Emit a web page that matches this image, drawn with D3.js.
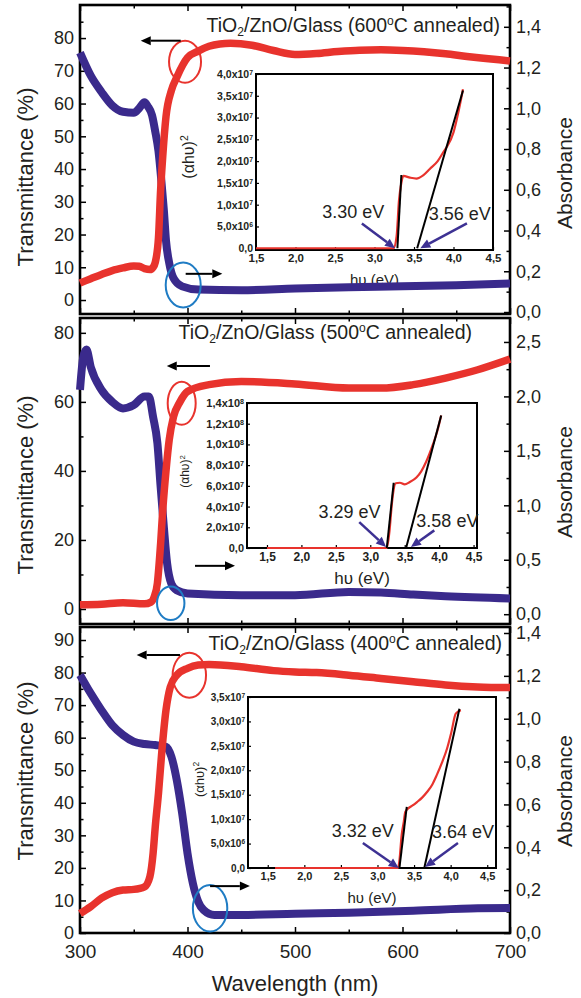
<!DOCTYPE html>
<html>
<head>
<meta charset="utf-8">
<script src="https://cdn.jsdelivr.net/npm/d3@7/dist/d3.min.js"></script>
<style>
  body { margin: 0; background: #fff; }
  text { font-family: 'Liberation Sans', Arial, sans-serif; fill: #231f20; }
</style>
</head>
<body>
<div id="chart"></div>
<script>
// wavelength axis (nm)
const wlTicks = [300, 400, 500, 600, 700]
const wlMinor = [350, 450, 550, 650]

// ---- 600 C annealed
const trWl600 = [300, 310, 320, 330, 340, 350, 355, 360, 365, 368, 370, 373, 375, 377, 380, 385, 390, 400, 410, 420, 430, 440, 460, 480, 500, 520, 540, 560, 580, 600, 620, 640, 660, 680, 700]
const tr600 = [5.2, 6.5, 7.8, 9.0, 9.8, 10.4, 10.3, 9.6, 9.3, 10, 11.5, 19, 33.6, 44, 56, 64, 68, 74, 76, 77.5, 78.2, 78.4, 77.8, 76.2, 75, 75.3, 75.9, 76.3, 76.4, 76.2, 75.8, 75.2, 74.4, 73.7, 73]
const abWl600 = [300, 310, 320, 330, 340, 350, 355, 360, 363, 367, 370, 373, 376, 378, 380, 383, 387, 395, 410, 450, 500, 550, 600, 650, 700]
const ab600 = [1.273, 1.16, 1.08, 1.014, 0.983, 0.978, 1.0, 1.03, 1.01, 0.966, 0.886, 0.79, 0.625, 0.5, 0.35, 0.24, 0.166, 0.126, 0.11, 0.107, 0.115, 0.122, 0.126, 0.132, 0.14]
const tTicks600 = [0, 10, 20, 30, 40, 50, 60, 70, 80]
const aTicks600 = [0, 0.2, 0.4, 0.6, 0.8, 1.0, 1.2, 1.4]
const taucE600 = [1.5, 2.0, 2.5, 3.0, 3.24, 3.28, 3.31, 3.34, 3.365, 3.45, 3.53, 3.62, 3.70, 3.80, 3.87, 3.91, 4.0, 4.06, 4.12]
const tauc600 = [0, 0, 0, 0, 0, 0.28e7, 1.1e7, 1.5e7, 1.66e7, 1.62e7, 1.6e7, 1.68e7, 1.82e7, 2.0e7, 2.2e7, 2.31e7, 2.66e7, 3.11e7, 3.65e7]
const fitLow600 = [[3.29, 0], [3.34, 1.68e7]]
const fitHigh600 = [[3.54, 0], [4.12, 3.62e7]]
const taucTicks600 = [0, 0.5e7, 1.0e7, 1.5e7, 2.0e7, 2.5e7, 3.0e7, 3.5e7, 4.0e7]
const gapLabels600 = ['3.30 eV', '3.56 eV']

// ---- 500 C annealed
const trWl500 = [300, 320, 340, 360, 366, 369, 372, 375, 377, 380, 383, 387, 393, 400, 420, 450, 500, 550, 580, 610, 640, 670, 700]
const tr500 = [1.2, 1.4, 1.8, 1.5, 2.0, 3.5, 7.5, 19, 28.7, 40, 49, 55.7, 60, 63, 65, 65.9, 65.2, 64, 64, 65, 66.9, 69.3, 72.4]
const abWl500 = [300, 303, 306, 310, 320, 330, 340, 350, 360, 364, 368, 372, 375, 378, 381, 385, 390, 400, 450, 500, 550, 580, 610, 640, 700]
const ab500 = [2.06, 2.36, 2.43, 2.27, 2.06, 1.95, 1.89, 1.92, 2.0, 2.0, 1.81, 1.57, 1.17, 0.80, 0.47, 0.28, 0.22, 0.19, 0.175, 0.175, 0.205, 0.2, 0.18, 0.165, 0.145]
const tTicks500 = [0, 20, 40, 60, 80]
const aTicks500 = [0, 0.5, 1.0, 1.5, 2.0, 2.5]
const taucE500 = [1.5, 2.0, 2.5, 3.0, 3.24, 3.28, 3.31, 3.33, 3.37, 3.43, 3.50, 3.57, 3.67, 3.74, 3.81, 3.91, 3.97, 4.03]
const tauc500 = [0, 0, 0, 0, 0, 0.167e8, 0.4e8, 0.52e8, 0.625e8, 0.63e8, 0.615e8, 0.635e8, 0.68e8, 0.74e8, 0.83e8, 1.0e8, 1.12e8, 1.28e8]
const fitLow500 = [[3.24, 0], [3.34, 0.63e8]]
const fitHigh500 = [[3.52, 0], [4.03, 1.28e8]]
const taucTicks500 = [0, 0.2e8, 0.4e8, 0.6e8, 0.8e8, 1.0e8, 1.2e8, 1.4e8]
const gapLabels500 = ['3.29 eV', '3.58 eV']

// ---- 400 C annealed
const trWl400 = [300, 310, 320, 330, 340, 350, 360, 365, 368, 370, 373, 376, 380, 384, 390, 400, 410, 420, 450, 480, 500, 520, 550, 580, 610, 640, 670, 700]
const tr400 = [6.0, 8.1, 10.7, 12.4, 13.2, 13.4, 14.2, 17.3, 24.5, 32.6, 42.9, 55.3, 68.5, 75.6, 79.2, 81.3, 82.3, 82.5, 81.8, 80.6, 80.2, 80, 79.2, 78.2, 77.2, 76.2, 75.6, 75.4]
const abWl400 = [300, 310, 320, 330, 340, 350, 360, 370, 380, 385, 390, 395, 400, 405, 410, 415, 425, 450, 500, 550, 610, 670, 700]
const ab400 = [1.204, 1.118, 1.04, 0.97, 0.924, 0.893, 0.882, 0.877, 0.869, 0.823, 0.714, 0.559, 0.372, 0.232, 0.146, 0.107, 0.084, 0.084, 0.09, 0.095, 0.104, 0.115, 0.117]
const tTicks400 = [0, 10, 20, 30, 40, 50, 60, 70, 80, 90]
const aTicks400 = [0, 0.2, 0.4, 0.6, 0.8, 1.0, 1.2, 1.4]
const taucE400 = [1.6, 2.0, 2.5, 3.0, 3.28, 3.30, 3.33, 3.36, 3.38, 3.42, 3.48, 3.54, 3.61, 3.68, 3.75, 3.81, 3.88, 3.95, 4.01, 4.07, 4.14]
const tauc400 = [0, 0, 0, 0, 0, 0.15e7, 0.67e7, 0.95e7, 1.15e7, 1.22e7, 1.28e7, 1.35e7, 1.44e7, 1.56e7, 1.71e7, 1.9e7, 2.15e7, 2.44e7, 2.78e7, 3.16e7, 3.23e7]
const fitLow400 = [[3.30, 0], [3.40, 1.25e7]]
const fitHigh400 = [[3.64, 0], [4.12, 3.26e7]]
const taucTicks400 = [0, 0.5e7, 1.0e7, 1.5e7, 2.0e7, 2.5e7, 3.0e7, 3.5e7]
const gapLabels400 = ['3.32 eV', '3.64 eV']

const taucTicksE = [1.5, 2.0, 2.5, 3.0, 3.5, 4.0, 4.5]

const RED = '#e8332d'
const BLUE = '#3a2a8c'
const CIRCLE_BLUE = '#1f7cc4'
const ARROW = '#3d3193'
const X0 = 80, X1 = 510

const panels = [
    {
        temp: '600', top: 5, bottom: 314, tDomain: [-4.27, 90.1], aDomain: [-0.0097, 1.507],
        trWl: trWl600, tr: tr600, abWl: abWl600, ab: ab600, tTicks: tTicks600, aTicks: aTicks600,
        titleX: 500, titleY: 25, tLabelY: 177, aLabelY: 173, showX: false,
        redLoop: [397.7, 72.8, 16, 21], blueLoop: [396, 4.6, 17.5, 22.5],
        leftArrow: [393.7, 356.5, 79.2], rightArrow: [398.3, 432.4, 8],
        inset: {
            box: [256, 74, 493, 250], eDomain: [1.5, 4.5], vDomain: [-0.04e7, 4.0e7],
            E: taucE600, v: tauc600, fits: [fitLow600, fitHigh600], vTicks: taucTicks600,
            labels: gapLabels600, labelPos: [[2.73, 0.84e7], [4.08, 0.79e7]],
            arrows: [[2.84, 0.57e7, 3.26, 0], [4.17, 0.57e7, 3.58, 0]],
            tickFont: 10.5, xTitleSize: 15, yTitleSize: 16, yTitleDx: -68, yTitleDy: -5
        }
    },
    {
        temp: '500', top: 318, bottom: 624, tDomain: [-4.35, 84.3], aDomain: [-0.09, 2.72],
        trWl: trWl500, tr: tr500, abWl: abWl500, ab: ab500, tTicks: tTicks500, aTicks: aTicks500,
        titleX: 472, titleY: 332, tLabelY: 485, aLabelY: 482, showX: false,
        redLoop: [394.6, 59.6, 14, 21.5], blueLoop: [384.4, 1.65, 13.7, 16.7],
        leftArrow: [420.9, 380.7, 70.4], rightArrow: [407, 444.2, 12.5],
        inset: {
            box: [247, 403, 477, 548], eDomain: [1.21, 4.55], vDomain: [0, 1.4e8],
            E: taucE500, v: tauc500, fits: [fitLow500, fitHigh500], vTicks: taucTicks500,
            labels: gapLabels500, labelPos: [[2.70, 0.35e8], [4.12, 0.26e8]],
            arrows: [[2.84, 0.25e8, 3.23, 0.01e8], [3.93, 0.17e8, 3.59, 0.01e8]],
            tickFont: 11, xTitleSize: 17, yTitleSize: 12, yTitleDx: -62, yTitleDy: -4
        }
    },
    {
        temp: '400', top: 627, bottom: 933, tDomain: [0, 94], aDomain: [0, 1.428],
        trWl: trWl400, tr: tr400, abWl: abWl400, ab: ab400, tTicks: tTicks400, aTicks: aTicks400,
        titleX: 502, titleY: 643, tLabelY: 771, aLabelY: 791, showX: true,
        redLoop: [401.7, 79.2, 16.7, 22.5], blueLoop: [421, 7.6, 17.2, 23.3],
        leftArrow: [393, 352.7, 85.4], rightArrow: [421, 458, 14.4],
        inset: {
            box: [248, 697, 496, 868], eDomain: [1.23, 4.62], vDomain: [0, 3.5e7],
            E: taucE400, v: tauc400, fits: [fitLow400, fitHigh400], vTicks: taucTicks400,
            labels: gapLabels400, labelPos: [[2.80, 0.76e7], [4.17, 0.74e7]],
            arrows: [[2.80, 0.51e7, 3.29, 0], [4.10, 0.51e7, 3.65, 0.02e7]],
            tickFont: 10, xTitleSize: 15, yTitleSize: 13, yTitleDx: -49, yTitleDy: -3
        }
    }
]

const comma = d => d3.format('.1f')(d).replace('.', ',')
const zip = (a, b) => a.map((d, i) => [d, b[i]])
const minorOf = (ticks, domain) => {
    const s = ticks[1] - ticks[0]
    return d3.range(ticks[0] - s / 2, ticks[ticks.length - 1] + s, s)
        .filter(v => v > Math.min(...domain) && v < Math.max(...domain))
}

const svg = d3.select('#chart').append('svg')
    .attr('width', 581).attr('height', 998)

const x = d3.scaleLinear().domain([300, 700]).range([X0, X1])

function addArrow(g, x1, y1, x2, y2, color, width, head) {
    const ang = Math.atan2(y2 - y1, x2 - x1)
    const bx = x2 - head * Math.cos(ang), by = y2 - head * Math.sin(ang)
    g.append('line')
        .attr('x1', x1).attr('y1', y1).attr('x2', bx).attr('y2', by)
        .attr('stroke', color).attr('stroke-width', width)
    const w = head * 0.45
    g.append('path')
        .attr('d', `M${x2},${y2}L${bx - w * Math.sin(ang)},${by + w * Math.cos(ang)}L${bx + w * Math.sin(ang)},${by - w * Math.cos(ang)}Z`)
        .attr('fill', color)
}

function sciLabel(sel, v) {
    sel.text(null)
    if (v === 0) { sel.text('0,0'); return }
    const e = Math.floor(Math.log10(v) + 1e-9)
    sel.append('tspan').text(comma(v / 10 ** e) + 'x10')
    sel.append('tspan').attr('dy', '-0.45em').attr('font-size', '0.65em').text(e)
}

function drawInset(g, ins) {
    const [l, t, r, b] = ins.box
    const ex = d3.scaleLinear().domain(ins.eDomain).range([l, r])
    const ey = d3.scaleLinear().domain(ins.vDomain).range([b, t])

    g.append('rect')
        .attr('x', l).attr('y', t).attr('width', r - l).attr('height', b - t)
        .attr('fill', 'none').attr('stroke', '#000').attr('stroke-width', 2)

    const ya = g.append('g').attr('transform', `translate(${l},0)`)
        .call(d3.axisLeft(ey).tickValues(ins.vTicks).tickSize(-3).tickPadding(3))
        .attr('font-size', ins.tickFont).attr('font-weight', 'bold')
    ya.select('.domain').remove()
    ya.selectAll('text').each(function (d) { sciLabel(d3.select(this), d) })
    ya.selectAll('line').attr('stroke-width', 1.2)

    const xa = g.append('g').attr('transform', `translate(0,${b})`)
        .call(d3.axisBottom(ex).tickValues(taucTicksE).tickSize(-3).tickPadding(4).tickFormat(comma))
        .attr('font-size', ins.tickFont + 1).attr('font-weight', 'bold')
    xa.select('.domain').remove()
    xa.selectAll('line').attr('stroke-width', 1.2)

    g.append('text')
        .attr('x', (l + r) / 2).attr('y', b + 30).attr('dy', '0.35em')
        .attr('text-anchor', 'middle').attr('font-size', ins.xTitleSize)
        .text('h\u03c5 (eV)')

    const yt = g.append('text')
        .attr('transform', `translate(${l + ins.yTitleDx},${(t + b) / 2 + ins.yTitleDy}) rotate(-90)`)
        .attr('text-anchor', 'middle').attr('dy', '0.35em').attr('font-size', ins.yTitleSize)
    yt.append('tspan').text('(\u03b1h\u03c5)')
    yt.append('tspan').attr('dy', '-0.5em').attr('font-size', '0.65em').text('2')

    const line = d3.line().x(d => ex(d[0])).y(d => ey(d[1]))
    g.append('path').datum(zip(ins.E, ins.v))
        .attr('d', line.curve(d3.curveMonotoneX))
        .attr('fill', 'none').attr('stroke', RED).attr('stroke-width', 2.2)

    ins.fits.forEach(f => {
        g.append('path').datum(f)
            .attr('d', d3.line().x(d => ex(d[0])).y(d => ey(d[1])))
            .attr('stroke', '#000').attr('stroke-width', 2)
    })

    ins.labels.forEach((lab, i) => {
        g.append('text')
            .attr('x', ex(ins.labelPos[i][0])).attr('y', ey(ins.labelPos[i][1]))
            .attr('dy', '0.35em').attr('text-anchor', 'middle').attr('font-size', 18)
            .text(lab)
    })

    ins.arrows.forEach(a => {
        addArrow(g, ex(a[0]), ey(a[1]), ex(a[2]), ey(a[3]), ARROW, 2.5, 10)
    })
}

function drawPanel(p) {
    const g = svg.append('g')
    const yT = d3.scaleLinear().domain(p.tDomain).range([p.bottom, p.top])
    const yA = d3.scaleLinear().domain(p.aDomain).range([p.bottom, p.top])

    // ticks on four sides, pointing inwards
    g.append('g').attr('transform', `translate(${X0},0)`)
        .call(d3.axisLeft(yT).tickValues(p.tTicks).tickSize(-6).tickPadding(6).tickFormat(d3.format('d')))
        .attr('font-size', 18)
    g.append('g').attr('transform', `translate(${X0},0)`)
        .call(d3.axisLeft(yT).tickValues(minorOf(p.tTicks, p.tDomain)).tickSize(-3.5).tickFormat(''))

    g.append('g').attr('transform', `translate(${X1},0)`)
        .call(d3.axisRight(yA).tickValues(p.aTicks).tickSize(-6).tickPadding(6).tickFormat(comma))
        .attr('font-size', 18)
    g.append('g').attr('transform', `translate(${X1},0)`)
        .call(d3.axisRight(yA).tickValues(minorOf(p.aTicks, p.aDomain)).tickSize(-3.5).tickFormat(''))

    g.append('g').attr('transform', `translate(0,${p.top})`)
        .call(d3.axisTop(x).tickValues(wlTicks).tickSize(-6).tickFormat(''))
    g.append('g').attr('transform', `translate(0,${p.top})`)
        .call(d3.axisTop(x).tickValues(wlMinor).tickSize(-3.5).tickFormat(''))

    g.append('g').attr('transform', `translate(0,${p.bottom})`)
        .call(d3.axisBottom(x).tickValues(wlTicks).tickSize(-6).tickPadding(12)
            .tickFormat(p.showX ? d3.format('d') : ''))
        .attr('font-size', 19)
    g.append('g').attr('transform', `translate(0,${p.bottom})`)
        .call(d3.axisBottom(x).tickValues(wlMinor).tickSize(-3.5).tickFormat(''))

    g.selectAll('.domain').remove()
    g.selectAll('.tick line').attr('stroke-width', 1.5)

    g.append('rect')
        .attr('x', X0).attr('y', p.top).attr('width', X1 - X0).attr('height', p.bottom - p.top)
        .attr('fill', 'none').attr('stroke', '#000').attr('stroke-width', 2.6)

    // axis titles
    g.append('text')
        .attr('transform', `translate(25,${p.tLabelY}) rotate(-90)`)
        .attr('text-anchor', 'middle').attr('dy', '0.35em').attr('font-size', 22)
        .text('Transmittance (%)')
    g.append('text')
        .attr('transform', `translate(565,${p.aLabelY}) rotate(-90)`)
        .attr('text-anchor', 'middle').attr('dy', '0.35em').attr('font-size', 21)
        .text('Absorbance')

    // panel title
    const title = g.append('text')
        .attr('x', p.titleX).attr('y', p.titleY).attr('dy', '0.35em')
        .attr('text-anchor', 'end').attr('font-size', 19.5)
    title.append('tspan').text('TiO')
    title.append('tspan').attr('dy', '0.35em').attr('font-size', '0.62em').text('2')
    title.append('tspan').attr('dy', '-0.22em').text('/ZnO/Glass (' + p.temp)
    title.append('tspan').attr('dy', '-0.55em').attr('font-size', '0.62em').text('o')
    title.append('tspan').attr('dy', '0.34em').text('C annealed)')

    // inset
    drawInset(g, p.inset)

    // absorbance (blue) then transmittance (red)
    g.append('path').datum(zip(p.abWl, p.ab))
        .attr('d', d3.line().x(d => x(d[0])).y(d => yA(d[1])).curve(d3.curveMonotoneX))
        .attr('fill', 'none').attr('stroke', BLUE).attr('stroke-width', 8)
        .attr('stroke-linejoin', 'round')
    g.append('path').datum(zip(p.trWl, p.tr))
        .attr('d', d3.line().x(d => x(d[0])).y(d => yT(d[1])).curve(d3.curveMonotoneX))
        .attr('fill', 'none').attr('stroke', RED).attr('stroke-width', 7.5)
        .attr('stroke-linejoin', 'round')

    // loops and arrows marking which axis each curve belongs to
    g.append('ellipse')
        .attr('cx', x(p.redLoop[0])).attr('cy', yT(p.redLoop[1]))
        .attr('rx', p.redLoop[2]).attr('ry', p.redLoop[3])
        .attr('fill', 'none').attr('stroke', RED).attr('stroke-width', 2)
    g.append('ellipse')
        .attr('cx', x(p.blueLoop[0])).attr('cy', yT(p.blueLoop[1]))
        .attr('rx', p.blueLoop[2]).attr('ry', p.blueLoop[3])
        .attr('fill', 'none').attr('stroke', CIRCLE_BLUE).attr('stroke-width', 2)

    addArrow(g, x(p.leftArrow[0]), yT(p.leftArrow[2]), x(p.leftArrow[1]), yT(p.leftArrow[2]), '#000', 2, 10)
    addArrow(g, x(p.rightArrow[0]), yT(p.rightArrow[2]), x(p.rightArrow[1]), yT(p.rightArrow[2]), '#000', 2, 10)
}

panels.forEach(drawPanel)

svg.append('text')
    .attr('x', (X0 + X1) / 2).attr('y', 983).attr('dy', '0.35em')
    .attr('text-anchor', 'middle').attr('font-size', 22)
    .text('Wavelength (nm)')
</script>
</body>
</html>
